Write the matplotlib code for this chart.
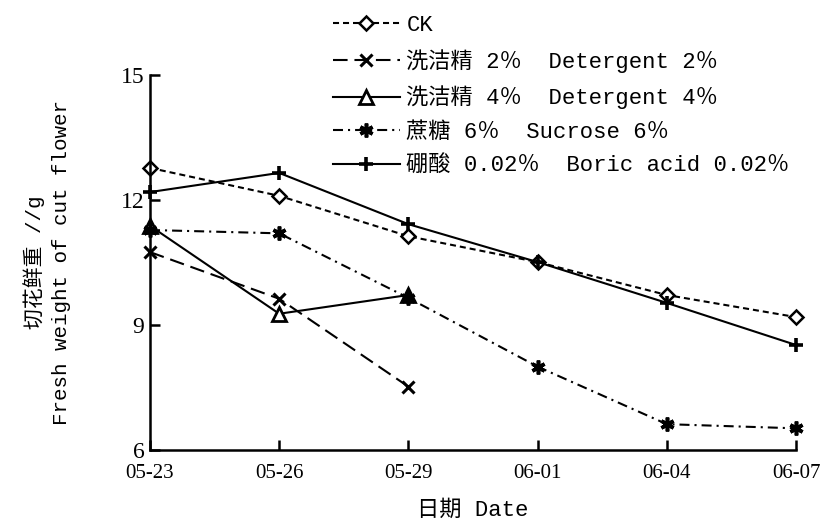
import matplotlib
matplotlib.use('Agg')
import matplotlib.pyplot as plt

# data
dates = ['05-23', '05-26', '05-29', '06-01', '06-04', '06-07']
ck = [12.77, 12.1, 11.13, 10.51, 9.72, 9.19]
det2 = [10.75, 9.63, 7.52]
det4 = [11.38, 9.27, 9.72]
sucrose = [11.28, 11.2, 9.65, 8.0, 6.62, 6.52]
boric = [12.19, 12.65, 11.42, 10.51, 9.53, 8.52]

labels = ['CK',
          '洗洁精 2％  Detergent 2％',
          '洗洁精 4％  Detergent 4％',
          '蔗糖 6％  Sucrose 6％',
          '硼酸 0.02％  Boric acid 0.02％']

yticks = [6, 9, 12, 15]

mono = ['Liberation Mono', 'Noto Sans CJK SC']
serif = ['Liberation Serif', 'Noto Sans CJK SC']

fig = plt.figure(figsize=(8.25, 5.32), dpi=100)
ax = fig.add_axes([150/825, 1-450/532, 646/825, 375/532])

x = list(range(len(dates)))
lw = 1.5
common = dict(color='black', lw=lw, clip_on=False)

ax.plot(x, ck, dashes=(2.9, 1.9), marker='D', ms=7, mfc='white', mew=1.8,
        label=labels[0], **common)
ax.plot(x[:3], det2, dashes=(7, 3.3), marker='x', ms=9, mew=2.2,
        label=labels[1], **common)
ax.plot(x[:3], det4, ls='-', marker='^', ms=10, mfc='white', mew=2,
        label=labels[2], **common)
ax.plot(x, sucrose, dashes=(4.8, 2.4, 1, 2.4), marker=(6, 2, 0), ms=10, mew=2.6,
        label=labels[3], **common)
ax.plot(x, boric, ls='-', marker='+', ms=10, mew=2.6,
        label=labels[4], **common)

ax.set_xlim(0, 5)
ax.set_ylim(6, 15)
ax.set_xticks(x)
ax.set_xticklabels(dates, fontfamily=serif, fontsize=15)
ax.set_yticks(yticks)
ax.set_yticklabels([str(v) for v in yticks], fontfamily=serif, fontsize=17)

for s in ['top', 'right']:
    ax.spines[s].set_visible(False)
for s in ['left', 'bottom']:
    ax.spines[s].set_linewidth(1.8)
ax.tick_params(direction='in', length=7, width=1.8, pad=4)
ax.tick_params(axis='x', pad=10)

ax.set_xlabel('日期 Date', fontfamily=mono, fontsize=16, labelpad=12)
ax.set_ylabel('切花鲜重 //g\nFresh weight of cut flower', fontfamily=mono,
              fontsize=15, labelpad=36, linespacing=1.45)

leg = fig.legend(loc='upper left', bbox_to_anchor=(333/825, 1-15/532),
                 frameon=False, handlelength=3.0, handletextpad=0.3,
                 labelspacing=0.58, borderpad=0, borderaxespad=0,
                 prop={'family': mono, 'size': 16})

fig.savefig('out.png', dpi=100)
